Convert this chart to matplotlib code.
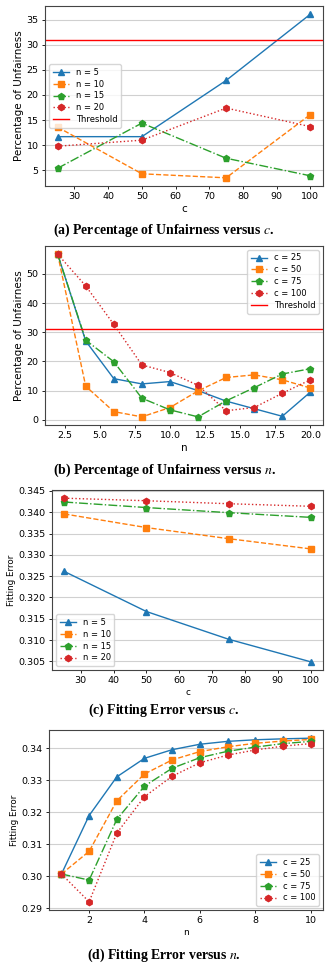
import matplotlib
matplotlib.use('Agg')
from matplotlib import pyplot as plt

# (a) unfairness vs c
c_vals = [25, 50, 75, 100]
unfair_n5 = [11.7, 11.7, 22.9, 36.1]
unfair_n10 = [13.6, 4.3, 3.5, 16.1]
unfair_n15 = [5.4, 14.4, 7.4, 3.9]
unfair_n20 = [9.8, 11.0, 17.4, 13.7]

# (b) unfairness vs n
n_vals = [2, 4, 6, 8, 10, 12, 14, 16, 18, 20]
unfair_c25 = [56.8, 27.0, 14.1, 12.3, 13.1, 10.0, 6.4, 3.8, 1.2, 9.5]
unfair_c50 = [56.8, 11.5, 2.8, 1.0, 4.2, 9.9, 14.5, 15.4, 13.7, 10.9]
unfair_c75 = [56.8, 27.3, 19.9, 7.4, 3.4, 1.0, 6.5, 11.0, 15.7, 17.5]
unfair_c100 = [56.8, 45.9, 32.7, 18.8, 16.2, 11.8, 3.1, 4.2, 9.1, 13.7]

threshold = 31

# (c) fitting error vs c
fit_n5 = [0.3261, 0.3167, 0.3102, 0.3049]
fit_n10 = [0.3396, 0.3364, 0.3338, 0.3314]
fit_n15 = [0.3424, 0.3411, 0.3399, 0.3388]
fit_n20 = [0.3433, 0.3427, 0.3420, 0.3414]

# (d) fitting error vs n
n_small = [1, 2, 3, 4, 5, 6, 7, 8, 9, 10]
fit_c25 = [0.3007, 0.3190, 0.3311, 0.3369, 0.3396, 0.3413, 0.3422, 0.3427, 0.3430, 0.3432]
fit_c50 = [0.3007, 0.3078, 0.3236, 0.3320, 0.3364, 0.3390, 0.3405, 0.3416, 0.3423, 0.3428]
fit_c75 = [0.3007, 0.2988, 0.3178, 0.3282, 0.3338, 0.3371, 0.3391, 0.3404, 0.3415, 0.3422]
fit_c100 = [0.3007, 0.2920, 0.3135, 0.3249, 0.3313, 0.3355, 0.3379, 0.3395, 0.3407, 0.3415]

n_labels = ['n = 5', 'n = 10', 'n = 15', 'n = 20']
c_labels = ['c = 25', 'c = 50', 'c = 75', 'c = 100']
captions = [r'(a) Percentage of Unfairness versus $c$.',
            r'(b) Percentage of Unfairness versus $n$.',
            r'(c) Fitting Error versus $c$.',
            r'(d) Fitting Error versus $n$.']

plt.rcParams['font.size'] = 6.8
plt.rcParams['mathtext.fontset'] = 'stix'

styles = [('tab:blue', '-', '^'), ('tab:orange', '--', 's'),
          ('tab:green', '-.', 'p'), ('tab:red', ':', 'h')]

fig = plt.figure(figsize=(3.28, 9.69), dpi=100)
H = 969.0
W = 328.0
boxes = [(45, 6, 186), (45, 246, 425), (52, 490, 670), (49, 730, 910)]
caption_y = [230, 470, 710, 955]
axes = []
for (l, t, b) in boxes:
    ax = fig.add_axes([l / W, 1 - b / H, (323 - l) / W, (b - t) / H])
    axes.append(ax)


def draw(ax, x, series, labels, thresh=False):
    for ys, lab, (col, ls, mk) in zip(series, labels, styles):
        ax.plot(x, ys, color=col, linestyle=ls, marker=mk, markersize=4.5,
                linewidth=1.0, label=lab)
    if thresh:
        ax.axhline(threshold, color='red', linewidth=1.0, label='Threshold')
    ax.grid(axis='y', color='#d0d0d0', linewidth=0.8)
    ax.set_axisbelow(True)
    for s in ax.spines.values():
        s.set_color('#444444')
        s.set_linewidth(0.8)
    ax.tick_params(length=2.5, width=0.6, pad=2)


leg_kw = dict(fontsize=6, handlelength=2.0, borderpad=0.4, labelspacing=0.35)

draw(axes[0], c_vals, [unfair_n5, unfair_n10, unfair_n15, unfair_n20], n_labels, True)
axes[0].set_xlabel('c', labelpad=2, fontsize=7.5)
axes[0].set_ylabel('Percentage of Unfairness', labelpad=2, fontsize=7.5)
axes[0].legend(loc='center left', **leg_kw)

draw(axes[1], n_vals, [unfair_c25, unfair_c50, unfair_c75, unfair_c100], c_labels, True)
axes[1].set_xlabel('n', labelpad=2, fontsize=7.5)
axes[1].set_ylabel('Percentage of Unfairness', labelpad=2, fontsize=7.5)
axes[1].legend(loc='upper right', **leg_kw)

draw(axes[2], c_vals, [fit_n5, fit_n10, fit_n15, fit_n20], n_labels)
axes[2].set_xlabel('c', labelpad=2, fontsize=6.5)
axes[2].set_ylabel('Fitting Error', labelpad=2, fontsize=6.3)
axes[2].legend(loc='lower left', **leg_kw)

draw(axes[3], n_small, [fit_c25, fit_c50, fit_c75, fit_c100], c_labels)
axes[3].set_xlabel('n', labelpad=2, fontsize=6.5)
axes[3].set_ylabel('Fitting Error', labelpad=2, fontsize=6.3)
axes[3].legend(loc='lower right', **leg_kw)

for cap, y in zip(captions, caption_y):
    fig.text(0.5, 1 - y / H, cap, ha='center', va='center', fontsize=9.9,
             family='Liberation Serif', weight='bold')

plt.savefig('out.png', dpi=100)
